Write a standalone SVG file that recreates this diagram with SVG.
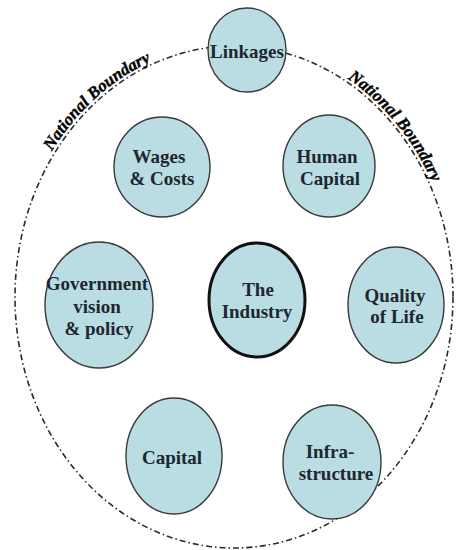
<svg xmlns="http://www.w3.org/2000/svg" width="456" height="550" viewBox="0 0 456 550">
<style>
.n{fill:#b9dde2;stroke:#3a3a3a;stroke-width:1.4}
.c{fill:#b9dde2;stroke:#111;stroke-width:3}
.t{font-family:"Liberation Serif",serif;font-weight:bold;font-size:19px;fill:#1e2630;text-anchor:middle}
.b{fill:none;stroke:#2a2a2a;stroke-width:1.6;stroke-dasharray:6 3 1.5 3}
.lb{font-family:"Liberation Serif",serif;font-weight:bold;font-style:italic;font-size:17px;fill:#000;stroke:#000;stroke-width:0.4}
</style>
<defs>
<path id="arc" d="M 12 296 A 222 253 0 0 1 456 296"/>
</defs>
<g id="connectors">
<ellipse class="b" cx="234" cy="297" rx="219" ry="251"/>
<text class="lb"><textPath href="#arc" startOffset="152">National Boundary</textPath></text>
<text class="lb"><textPath href="#arc" startOffset="494">National Boundary</textPath></text>
</g>
<g id="linkages"><ellipse class="n" cx="247" cy="50" rx="39" ry="42"/><text class="t" x="247" y="58">Linkages</text></g>
<g id="wages"><ellipse class="n" cx="162" cy="167" rx="48" ry="50"/><text class="t" x="159" y="163">Wages</text><text class="t" x="162" y="185">&amp; Costs</text></g>
<g id="human"><ellipse class="n" cx="329" cy="166" rx="46" ry="51"/><text class="t" x="327" y="163">Human</text><text class="t" x="330" y="185">Capital</text></g>
<g id="government"><ellipse class="n" cx="99" cy="305" rx="54" ry="63"/><text class="t" x="97" y="290">Government</text><text class="t" x="97" y="313">vision</text><text class="t" x="99" y="335">&amp; policy</text></g>
<g id="industry"><ellipse class="c" cx="257" cy="300" rx="48" ry="57"/><text class="t" x="258" y="296">The</text><text class="t" x="257" y="318">Industry</text></g>
<g id="quality"><ellipse class="n" cx="396" cy="305" rx="48" ry="58"/><text class="t" x="395" y="302">Quality</text><text class="t" x="397" y="323">of Life</text></g>
<g id="capital"><ellipse class="n" cx="174" cy="456" rx="48" ry="58"/><text class="t" x="172" y="464">Capital</text></g>
<g id="infrastructure"><ellipse class="n" cx="332" cy="462" rx="49" ry="57"/><text class="t" x="330" y="458">Infra-</text><text class="t" x="336" y="480">structure</text></g>
</svg>
